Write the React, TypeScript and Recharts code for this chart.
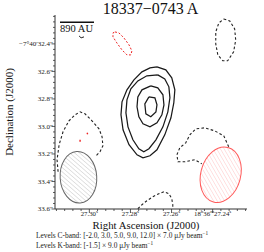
import React from 'react'
import { ComposedChart, Line, Scatter, XAxis, YAxis } from 'recharts'

// RA: seconds of 18h36m..s, Dec: arcsec of -7°40'..."
const raDomain = [27.2233, 27.3167]
const decDomain = [32.19, 33.6]
const raMajor = [27.30, 27.28, 27.26, 27.24]
const raMinor = [
  27.316, 27.312, 27.308, 27.304, 27.296, 27.292, 27.288, 27.284, 27.276, 27.272,
  27.268, 27.264, 27.256, 27.252, 27.248, 27.244, 27.236, 27.232, 27.228, 27.224,
]
const decMajor = [32.4, 32.6, 32.8, 33.0, 33.2, 33.4, 33.6]
const decMinor = [
  32.2, 32.24, 32.28, 32.32, 32.36, 32.44, 32.48, 32.52, 32.56, 32.64, 32.68, 32.72, 32.76,
  32.84, 32.88, 32.92, 32.96, 33.04, 33.08, 33.12, 33.16, 33.24, 33.28, 33.32, 33.36,
  33.44, 33.48, 33.52, 33.56,
]

// C-band positive contours (3, 5, 9, 12 sigma)
const cBand3 = [
  [27.2671, 32.567], [27.2628, 32.589], [27.2599, 32.647], [27.2584, 32.734], [27.2589, 32.828],
  [27.2603, 32.937], [27.2633, 33.061], [27.2671, 33.170], [27.2705, 33.213], [27.2739, 33.228],
  [27.2768, 33.206], [27.2807, 33.133], [27.2836, 33.024], [27.2846, 32.915], [27.2841, 32.821],
  [27.2817, 32.734], [27.2783, 32.661], [27.2744, 32.603], [27.2705, 32.574], [27.2671, 32.567],
]
const cBand5 = [
  [27.2667, 32.625], [27.2633, 32.654], [27.2613, 32.712], [27.2608, 32.792], [27.2618, 32.894],
  [27.2642, 33.003], [27.2676, 33.097], [27.2710, 33.162], [27.2735, 33.184], [27.2759, 33.162],
  [27.2788, 33.097], [27.2812, 33.003], [27.2822, 32.901], [27.2817, 32.807], [27.2798, 32.727],
  [27.2764, 32.669], [27.2720, 32.632], [27.2667, 32.625],
]
const cBand9 = [
  [27.2701, 32.705], [27.2667, 32.719], [27.2642, 32.770], [27.2637, 32.843], [27.2647, 32.915],
  [27.2671, 32.974], [27.2705, 33.003], [27.2739, 32.981], [27.2759, 32.930], [27.2768, 32.857],
  [27.2764, 32.785], [27.2744, 32.734], [27.2701, 32.705],
]
const cBand12 = [
  [27.2710, 32.785], [27.2681, 32.792], [27.2671, 32.843], [27.2676, 32.894], [27.2701, 32.930],
  [27.2725, 32.908], [27.2730, 32.836], [27.2710, 32.785],
]

// C-band negative (-2 sigma) contours
const cNegNE = [
  [27.2346, 32.219], [27.2317, 32.233], [27.2293, 32.291], [27.2288, 32.371], [27.2298, 32.458],
  [27.2327, 32.523], [27.2351, 32.523], [27.2375, 32.480], [27.2385, 32.400], [27.2385, 32.313],
  [27.2370, 32.248], [27.2346, 32.219],
]
const cNegW = [
  [27.3152, 33.329], [27.3157, 33.242], [27.3147, 33.133], [27.3128, 33.039], [27.3099, 32.959],
  [27.3069, 32.915], [27.3045, 32.894], [27.3021, 32.908], [27.2987, 32.959], [27.2953, 33.017],
  [27.2938, 33.075], [27.2934, 33.141], [27.2948, 33.184], [27.2967, 33.213],
]
const cNegSE = [
  [27.2322, 33.148], [27.2346, 33.068], [27.2390, 33.032], [27.2438, 33.010], [27.2482, 33.017],
  [27.2511, 33.061], [27.2531, 33.119], [27.2560, 33.155], [27.2574, 33.206], [27.2569, 33.257],
  [27.2535, 33.257], [27.2487, 33.242], [27.2453, 33.271],
]
const cNegS = [
  [27.2764, 33.598], [27.2744, 33.569], [27.2720, 33.540], [27.2691, 33.511], [27.2662, 33.489],
  [27.2637, 33.474], [27.2613, 33.489], [27.2599, 33.525], [27.2594, 33.569], [27.2594, 33.598],
]
const cNegTiny = [[27.3050, 32.342], [27.3040, 32.356], [27.3026, 32.349]]

// K-band (-1.5 sigma) contours
const kNeg = [
  [27.2875, 32.313], [27.2856, 32.320], [27.2832, 32.356], [27.2807, 32.407], [27.2793, 32.451],
  [27.2798, 32.480], [27.2817, 32.480], [27.2841, 32.444], [27.2866, 32.393], [27.2885, 32.349],
  [27.2885, 32.320], [27.2875, 32.313],
]
const kDotA = [[27.3011, 33.046], [27.3008, 33.057]]
const kDotB = [[27.3045, 33.097], [27.3045, 33.111]]

// synthesized beams (arcsec, degrees)
const beams = [
  { x: 27.3053, y: 33.369, major: 0.375, minor: 0.266, pa: -4, edge: '#666666', hatch: '#b0b0b0', id: 'hC' },
  { x: 27.2361, y: 33.351, major: 0.41, minor: 0.29, pa: 15, edge: '#ff5a5a', hatch: '#ffb0b0', id: 'hK' },
]

const SERIF = '"Liberation Serif", "Times New Roman", serif'
const FRAME = '#333'
const W = 264
const H = 252
const M = { top: 15, right: 17, left: 55, bottom: 43 }
const PX_PER_ARCSEC = (H - M.top - M.bottom) / (decDomain[1] - decDomain[0])

const pts = (a: number[][]) => a.map(([x, y]) => ({ x, y }))

const contours = [
  { key: 'c3', data: cBand3, color: '#1a1a1a', dash: undefined, w: 1.25 },
  { key: 'c5', data: cBand5, color: '#1a1a1a', dash: undefined, w: 1.25 },
  { key: 'c9', data: cBand9, color: '#1a1a1a', dash: undefined, w: 1.25 },
  { key: 'c12', data: cBand12, color: '#1a1a1a', dash: undefined, w: 1.25 },
  { key: 'nNE', data: cNegNE, color: '#222', dash: '2.6 2.2', w: 1.1 },
  { key: 'nW', data: cNegW, color: '#222', dash: '2.6 2.2', w: 1.1 },
  { key: 'nSE', data: cNegSE, color: '#222', dash: '2.6 2.2', w: 1.1 },
  { key: 'nS', data: cNegS, color: '#222', dash: '2.6 2.2', w: 1.1 },
  { key: 'nT', data: cNegTiny, color: '#222', dash: undefined, w: 1 },
  { key: 'k', data: kNeg, color: '#ee2222', dash: '2 1.8', w: 1 },
  { key: 'kA', data: kDotA, color: '#ee2222', dash: undefined, w: 1.4 },
  { key: 'kB', data: kDotB, color: '#ee2222', dash: undefined, w: 1.4 },
]

const isMajor = (v: number, list: number[]) => list.some((m) => Math.abs(m - v) < 1e-6)

const raLabel = (v: number) => {
  const sup = { fontSize: 5, dy: -2.8 }
  if (Math.abs(v - 27.24) < 1e-6) {
    return (
      <>
        18<tspan {...sup}>h</tspan>
        <tspan dy={2.8}>36</tspan>
        <tspan {...sup}>m</tspan>
        <tspan dy={2.8}>27.24</tspan>
        <tspan {...sup}>s</tspan>
      </>
    )
  }
  return (
    <>
      {v.toFixed(2)}
      <tspan {...sup}>s</tspan>
    </>
  )
}

const decLabel = (v: number) => (Math.abs(v - 32.4) < 1e-6 ? '−7°40′32.4″' : `${v.toFixed(1)}″`)

const BottomTick = (p: any) => {
  const major = isMajor(p.payload.value, raMajor)
  return (
    <g>
      <line x1={p.x} y1={p.y} x2={p.x} y2={p.y + (major ? 4 : 2)} stroke={FRAME} strokeWidth={0.8} />
      {major && (
        <text x={p.x} y={p.y + 7} textAnchor="middle" fontSize={6.8} fontFamily={SERIF} fill="#222">
          {raLabel(p.payload.value)}
        </text>
      )}
    </g>
  )
}

const TopTick = (p: any) => {
  const major = isMajor(p.payload.value, raMajor)
  return <line x1={p.x} y1={p.y} x2={p.x} y2={p.y - (major ? 4 : 2)} stroke={FRAME} strokeWidth={0.8} />
}

const LeftTick = (p: any) => {
  const major = isMajor(p.payload.value, decMajor)
  return (
    <g>
      <line x1={p.x} y1={p.y} x2={p.x - (major ? 3.5 : 2)} y2={p.y} stroke={FRAME} strokeWidth={0.8} />
      {major && (
        <text x={p.x - 2} y={p.y + 2.4} textAnchor="end" fontSize={7} fontFamily={SERIF} fill="#222">
          {decLabel(p.payload.value)}
        </text>
      )}
    </g>
  )
}

const RightTick = (p: any) => {
  const major = isMajor(p.payload.value, decMajor)
  return <line x1={p.x} y1={p.y} x2={p.x + (major ? 3.5 : 2)} y2={p.y} stroke={FRAME} strokeWidth={0.8} />
}

const BeamShape = (p: any) => {
  const b = p.payload
  const rx = (b.minor / 2) * PX_PER_ARCSEC
  const ry = (b.major / 2) * PX_PER_ARCSEC
  return (
    <g>
      <defs>
        <pattern id={b.id} width={3.2} height={3.2} patternUnits="userSpaceOnUse" patternTransform="rotate(-45)">
          <line x1={0} y1={0} x2={0} y2={3.2} stroke={b.hatch} strokeWidth={0.7} />
        </pattern>
      </defs>
      <ellipse
        cx={p.cx}
        cy={p.cy}
        rx={rx}
        ry={ry}
        transform={`rotate(${b.pa} ${p.cx} ${p.cy})`}
        fill={`url(#${b.id})`}
        stroke={b.edge}
        strokeWidth={1}
      />
    </g>
  )
}

const allRa = [...raMajor, ...raMinor].sort((a, b) => a - b)
const allDec = [...decMajor, ...decMinor].sort((a, b) => a - b)

export default function App() {
  return (
    <div style={{ position: 'absolute', left: 0, top: 0, width: W, height: H, background: '#fff' }}>
      <ComposedChart width={W} height={H} margin={{ top: M.top, right: M.right, left: 0, bottom: 0 }}>
        <XAxis
          dataKey="x"
          type="number"
          domain={raDomain}
          allowDataOverflow
          reversed
          ticks={allRa}
          interval={0}
          height={M.bottom}
          tickLine={false}
          tickSize={0}
          tickMargin={0}
          tick={<BottomTick />}
          axisLine={{ stroke: FRAME, strokeWidth: 1 }}
        />
        <XAxis
          xAxisId="top"
          orientation="top"
          dataKey="x"
          type="number"
          domain={raDomain}
          allowDataOverflow
          reversed
          ticks={allRa}
          interval={0}
          height={0}
          tickLine={false}
          tickSize={0}
          tickMargin={0}
          tick={<TopTick />}
          axisLine={{ stroke: FRAME, strokeWidth: 1 }}
        />
        <YAxis
          dataKey="y"
          type="number"
          domain={decDomain}
          allowDataOverflow
          reversed
          ticks={allDec}
          interval={0}
          width={M.left}
          tickLine={false}
          tickSize={0}
          tickMargin={0}
          tick={<LeftTick />}
          axisLine={{ stroke: FRAME, strokeWidth: 1 }}
        />
        <YAxis
          yAxisId="right"
          orientation="right"
          dataKey="y"
          type="number"
          domain={decDomain}
          allowDataOverflow
          reversed
          ticks={allDec}
          interval={0}
          width={0}
          tickLine={false}
          tickSize={0}
          tickMargin={0}
          tick={<RightTick />}
          axisLine={{ stroke: FRAME, strokeWidth: 1 }}
        />
        {beams.map((b) => (
          <Scatter key={b.id} data={[b]} dataKey="y" shape={<BeamShape />} isAnimationActive={false} />
        ))}
        {contours.map((c) => (
          <Line
            key={c.key}
            data={pts(c.data)}
            dataKey="y"
            type="linear"
            stroke={c.color}
            strokeWidth={c.w}
            strokeDasharray={c.dash}
            dot={false}
            activeDot={false}
            isAnimationActive={false}
          />
        ))}
      </ComposedChart>
      <svg
        width={W}
        height={H}
        style={{ position: 'absolute', left: 0, top: 0, pointerEvents: 'none' }}
        fontFamily={SERIF}
      >
        <text x={150.5} y={13.5} textAnchor="middle" fontSize={16} fill="#111">
          18337−0743 A
        </text>
        <line x1={60} y1={22.3} x2={94} y2={22.3} stroke="#111" strokeWidth={1.4} />
        <text x={60} y={31.5} fontSize={10.5} fill="#111">
          890 AU
        </text>
        <text x={146} y={228.5} textAnchor="middle" fontSize={10.8} fill="#111">
          Right Ascension (J2000)
        </text>
        <text x={12.5} y={112} textAnchor="middle" fontSize={11} fill="#111" transform="rotate(-90 12.5 112)">
          Declination (J2000)
        </text>
        <text x={36} y={238} fontSize={7.4} fill="#222">
          Levels C-band: [-2.0, 3.0, 5.0, 9.0, 12.0] × 7.0 μJy beam
          <tspan fontSize={5.2} dy={-2.8}>−1</tspan>
        </text>
        <text x={36} y={247.5} fontSize={7.4} fill="#222">
          Levels K-band: [-1.5] × 9.0 μJy beam
          <tspan fontSize={5.2} dy={-2.8}>−1</tspan>
        </text>
      </svg>
    </div>
  )
}
